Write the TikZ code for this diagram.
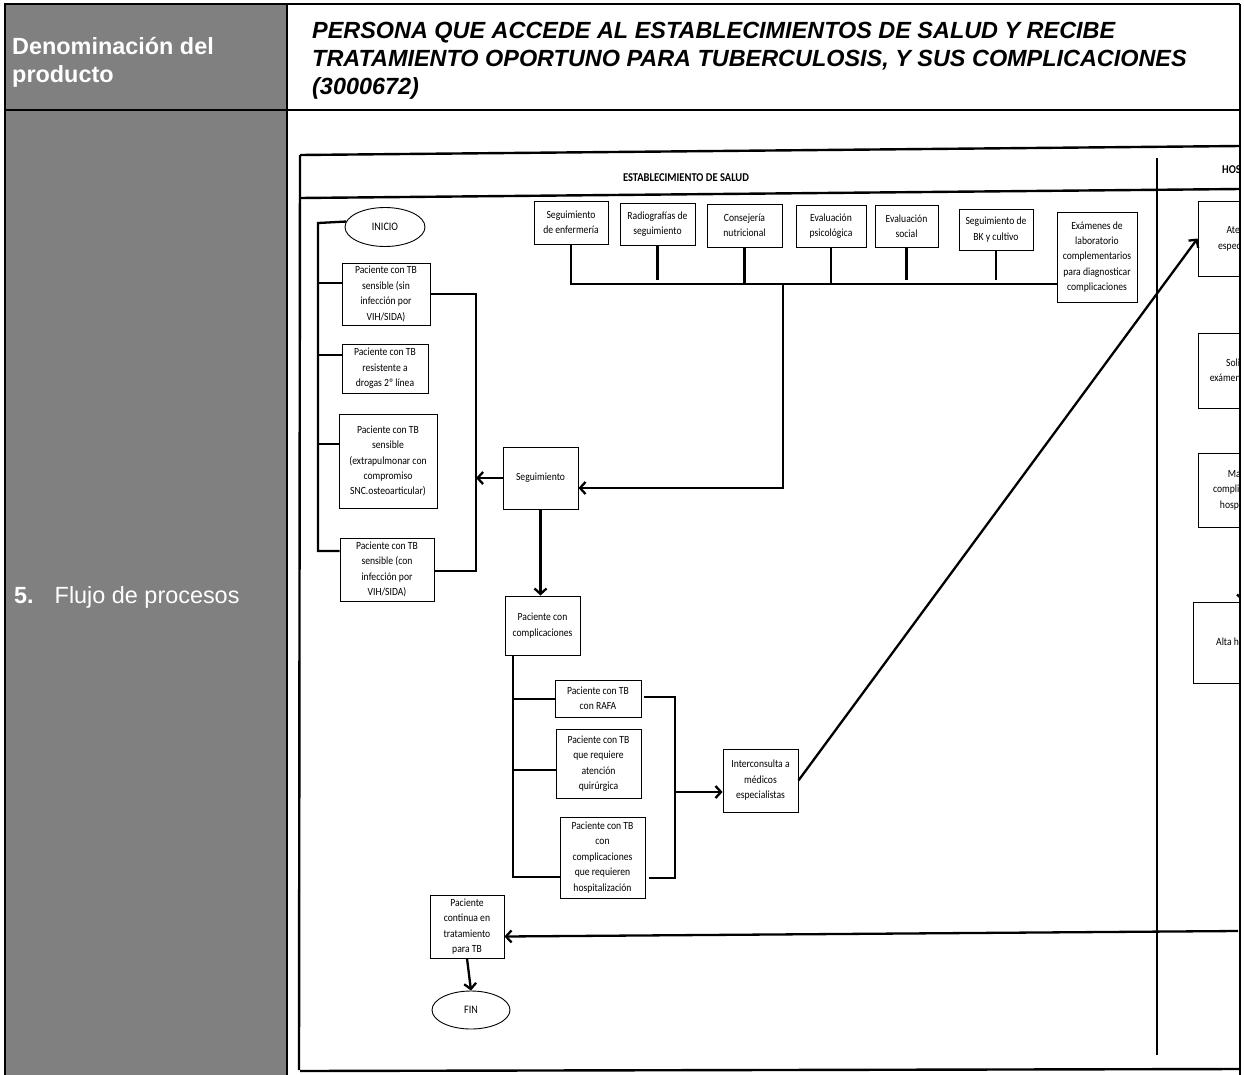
\documentclass[tikz,border=0pt]{standalone}
\usepackage{fontspec}
\setmainfont{Liberation Sans}
\newfontfamily\calfont[FakeStretch=0.88]{Carlito}
\usetikzlibrary{arrows.meta,shapes.geometric}
\definecolor{cellgray}{HTML}{808080}
\begin{document}
\begin{tikzpicture}[x=1bp,y=-1bp,
  box/.style={draw, line width=0.9bp, align=center, inner sep=1bp,
    font=\calfont\fontsize{11}{15.5}\selectfont},
  sz/.style 2 args={minimum width=#1bp, minimum height=#2bp},
  oval/.style={draw, ellipse, line width=0.9bp, inner sep=0pt,
    font=\calfont\fontsize{11.5}{13}\selectfont},
  conn/.style={line width=2.3bp},
  arrow/.style={conn, -{Straight Barb[length=5.5bp,width=12bp]}},
  frame/.style={line width=2.4bp},
  grid/.style={line width=2bp},
  title/.style={anchor=base west, inner sep=0pt,
    font=\fontsize{23.5}{28}\selectfont\bfseries\itshape},
  side/.style={anchor=base west, inner sep=0pt, text=white,
    font=\fontsize{23.5}{28}\selectfont},
  lane/.style={inner sep=0pt, font=\calfont\fontsize{12}{14}\selectfont\bfseries},
]
\useasboundingbox (0,0) rectangle (1244,1075);

% ---------- table ----------
\fill[cellgray] (5,4) rectangle (287,1075);
\draw[grid] (4,4) -- (1240,4);
\draw[grid] (5,4) -- (5,1075);
\draw[grid] (287,4) -- (287,1075);
\draw[grid] (5,110) -- (1240,110);
\draw[grid] (1240,4) -- (1240,1075);

\node[side, font=\fontsize{23.5}{28}\selectfont\bfseries] (h1) at (12,54) {Denominación del};
\node[side, font=\fontsize{23.5}{28}\selectfont\bfseries] (h2) at (12,82) {producto};
\node[side] (h3) at (14,603) {\textbf{5.}\hspace{21bp}Flujo de procesos};

\node[title] (t1) at (312,38.5) {PERSONA QUE ACCEDE AL ESTABLECIMIENTOS DE SALUD Y RECIBE};
\node[title] (t2) at (312,66.5) {TRATAMIENTO OPORTUNO PARA TUBERCULOSIS, Y SUS COMPLICACIONES};
\node[title] (t3) at (312,94.5) {(3000672)};

% ---------- flowchart frame ----------
\draw[frame] (300,155) -- (1240,146);
\draw[frame] (300,198) -- (1240,189);
\draw[frame] (300,155) -- (299,1070);
\draw[frame] (300,1071) -- (1240,1069);
\draw[frame] (1157,158) -- (1157,1055);
\node[lane] (lane1) at (686,178) {ESTABLECIMIENTO DE SALUD};

% ---------- top row of activities ----------
\node[box, sz={74}{43}] (s1) at (571,222.5) {Seguimiento\\de enfermería};
\node[box, sz={75}{42}] (s2) at (657.5,224) {Radiografías de\\seguimiento};
\node[box, sz={75}{43}] (s3) at (744.5,225.5) {Consejería\\nutricional};
\node[box, sz={70}{42}] (s4) at (831,226) {Evaluación\\psicológica};
\node[box, sz={63}{42}] (s5) at (906.5,226) {Evaluación\\social};
\node[box, sz={74}{41}] (s6) at (996,229.5) {Seguimiento de\\BK y cultivo};
\node[box, sz={80}{90}] (s7) at (1097,257) {Exámenes de\\laboratorio\\complementarios\\para diagnosticar\\complicaciones};

\coordinate (bus) at (570,284);
\coordinate (busend) at (0,280);
\coordinate (j1) at (783,284);
\coordinate (j1d) at (783,488);
\draw[conn] (bus) -- (bus -| s7.west);
\draw[conn] (s1) -- (s1 |- bus);
\draw[conn] (s2) -- (s2 |- busend);
\draw[conn] (s3) -- (s3 |- bus);
\draw[conn] (s4) -- (s4 |- bus);
\draw[conn] (s5) -- (s5 |- busend);
\draw[conn] (s6) -- (s6 |- busend);

% ---------- start and patient types ----------
\node[oval, minimum width=80bp, minimum height=39bp] (inicio) at (385,227) {INICIO};
\node[box, sz={88}{62}] (b1) at (386,294) {Paciente con TB\\sensible (sin\\infección por\\VIH/SIDA)};
\node[box, sz={86}{49}] (b2) at (385,368.5) {Paciente con TB\\resistente a\\drogas 2º línea};
\node[box, sz={98}{94}] (b3) at (388,461) {Paciente con TB\\sensible\\(extrapulmonar con\\compromiso\\SNC.osteoarticular)};
\node[box, sz={94}{63}] (b4) at (387,569.5) {Paciente con TB\\sensible (con\\infección por\\VIH/SIDA)};

\coordinate (lb0) at (318,223);
\coordinate (lb1) at (318,283);
\coordinate (lb2) at (318,355);
\coordinate (lb3) at (318,444);
\coordinate (lb4) at (318,551);
\draw[conn] (inicio.172) -- (lb0) -- (lb4) -- (lb4 -| b4.west);
\draw[conn] (lb1) -- (lb1 -| b1.west);
\draw[conn] (lb2) -- (lb2 -| b2.west);
\draw[conn] (lb3) -- (lb3 -| b3.west);

\coordinate (rb1) at (476,294);
\coordinate (rb2) at (476,571);
\draw[conn] (b1.east) -- (rb1) -- (rb2) -- (rb2 -| b4.east);

% ---------- follow-up ----------
\node[box, sz={75}{62}] (seg) at (540.5,478) {Seguimiento};
\draw[arrow] (j1) -- (j1d) -- (j1d -| seg.east);
\draw[arrow] (seg.west) -- (seg.west -| rb1);

\node[box, sz={75}{59}] (comp) at (542.5,625.5) {Paciente con\\complicaciones};
\draw[arrow] (seg.south) -- (seg.south |- comp.north);

\node[box, sz={86}{37}] (rafa) at (598,698.5) {Paciente con TB\\con RAFA};
\node[box, sz={85}{69}] (quir) at (598.5,763.5) {Paciente con TB\\que requiere\\atención\\quirúrgica};
\node[box, sz={85}{81}] (hosp) at (602.5,857.5) {Paciente con TB\\con\\complicaciones\\que requieren\\hospitalización};

\coordinate (cb0) at (513,655);
\coordinate (cb1) at (513,699);
\coordinate (cb2) at (513,770);
\coordinate (cb3) at (513,877);
\draw[conn] (cb0) -- (cb3) -- (cb3 -| hosp.west);
\draw[conn] (cb1) -- (cb1 -| rafa.west);
\draw[conn] (cb2) -- (cb2 -| quir.west);

\coordinate (kb1) at (675,697);
\coordinate (kb2) at (675,878);
\coordinate (kb3) at (675,792);
\draw[conn] ([xshift=3bp]rafa.east |- kb1) -- (kb1) -- (kb2) -- ([xshift=4bp]hosp.east |- kb2);

\node[box, sz={75}{63}] (inter) at (760.5,780.5) {Interconsulta a\\médicos\\especialistas};
\draw[arrow] (kb3) -- (kb3 -| inter.west);

% ---------- return and end ----------
\node[box, sz={74}{63}] (cont) at (467,926.5) {Paciente\\continua en\\tratamiento\\para TB};
\node[oval, minimum width=78bp, minimum height=38bp] (fin) at (471,1010) {FIN};
\coordinate (ret) at (1238,931);
\draw[arrow] (ret) -- ([yshift=-10bp]cont.east);
\draw[arrow] (cont.south) -- (fin.north);

% ---------- hospital lane (cut at the right edge) ----------
\begin{scope}
\clip (1158,140) rectangle (1239.5,1075);
\node[lane, anchor=base west] (lane2) at (1222,173.5) {HOSPITAL};
\node[box, sz={92}{75}] (aten) at (1244,238.5) {Atención\\especializada};
\node[box, sz={102}{75}] (solic) at (1249,370.5) {Solicitud de\\exámenes auxiliares};
\node[box, sz={102}{74}] (mane) at (1249,490) {Manejo de\\complicaciones en\\hospitalización};
\node[box, sz={110}{81}] (alta) at (1248,642.5) {Alta hospitalaria};
\draw[arrow] (mane.south -| 1243,0) -- (alta.north -| 1243,0);
\end{scope}

\draw[arrow] (inter.east) -- (aten.west);
\end{tikzpicture}
\end{document}
